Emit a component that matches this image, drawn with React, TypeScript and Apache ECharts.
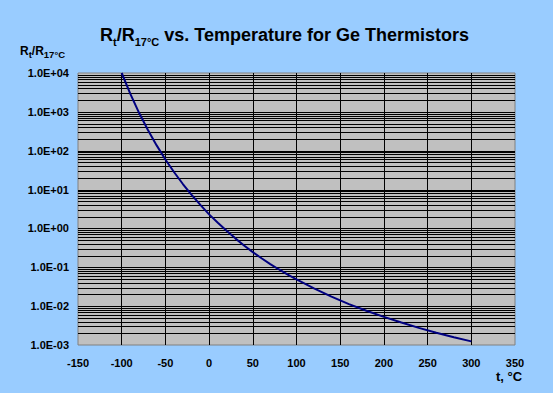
import React, { useEffect, useRef } from "react";
import * as echarts from "echarts";

// Temperature, °C
const temps = [
  -100, -90, -80, -70, -60, -50, -40, -30, -20, -10, 0, 10, 20, 30, 40, 50, 60, 70, 80, 90, 100,
  120, 140, 160, 180, 200, 220, 240, 260, 280, 300,
];
// R_t / R_17°C
const ratios = [
  10000, 2860, 931, 340, 137, 59.6, 27.9, 13.9, 7.31, 4.04, 2.3, 1.4, 0.87, 0.555, 0.362, 0.245,
  0.171, 0.121, 0.0878, 0.0648, 0.0488, 0.0286, 0.0176, 0.0113, 0.0076, 0.0053, 0.00378, 0.00276,
  0.00207, 0.00158, 0.00124,
];
// X axis range / ticks
const xMin = -150;
const xMax = 350;
const xStep = 50;
// Y axis decades (exponents)
const yExpMin = -3;
const yExpMax = 4;
const minorMultipliers = [1, 2, 3, 4, 5, 6, 7, 8, 9];

const FONT = '"Liberation Sans", Arial, sans-serif';

export default function App() {
  const ref = useRef<HTMLDivElement>(null);

  useEffect(() => {
    if (!ref.current) return;
    const chart = echarts.init(ref.current, undefined, { renderer: "svg" });

    const gridValues: number[][] = [];
    for (let e = yExpMin; e < yExpMax; e++) {
      for (const k of minorMultipliers) {
        const v = k * Math.pow(10, e);
        if (e === yExpMin && k === 1) continue;
        gridValues.push([xMin, v]);
      }
    }

    const fmt = (v: number) => {
      const e = Math.round(Math.log10(v));
      return "1.0E" + (e < 0 ? "-" : "+") + String(Math.abs(e)).padStart(2, "0");
    };

    const labelStyle = { fontFamily: FONT, fontSize: 11, fontWeight: "bold" as const, color: "#000" };

    chart.setOption({
      animation: false,
      backgroundColor: "#99CCFF",
      textStyle: { fontFamily: FONT },
      title: {
        text: "{m|R}{s|t}{m|/R}{s|17°C}{m| vs. Temperature for Ge Thermistors}",
        left: 100,
        top: 23,
        padding: 0,
        textStyle: {
          rich: {
            m: { fontFamily: FONT, fontSize: 18, fontWeight: "bold", lineHeight: 24, verticalAlign: "middle", color: "#000" },
            s: { fontFamily: FONT, fontSize: 11, fontWeight: "bold", lineHeight: 13, verticalAlign: "bottom", color: "#000" },
          },
        },
      },
      grid: {
        left: 78,
        top: 73,
        width: 437,
        height: 272,
        show: true,
        backgroundColor: "#C0C0C0",
        borderColor: "#808080",
        borderWidth: 1,
        containLabel: false,
      },
      xAxis: {
        type: "value",
        min: xMin,
        max: xMax,
        interval: xStep,
        axisLine: { show: false },
        axisTick: { show: false },
        splitLine: { show: true, showMinLine: false, showMaxLine: false, lineStyle: { color: "#000", width: 1 } },
        axisLabel: { ...labelStyle, margin: 12 },
      },
      yAxis: {
        type: "log",
        logBase: 10,
        min: Math.pow(10, yExpMin),
        max: Math.pow(10, yExpMax),
        splitNumber: 7,
        axisLine: { show: false },
        axisTick: { show: false },
        splitLine: { show: false },
        axisLabel: { ...labelStyle, margin: 9, formatter: fmt, showMinLabel: true, showMaxLabel: true },
      },
      graphic: [
        {
          type: "text",
          left: 20,
          top: 45,
          style: {
            text: "{m|R}{s|t}{m|/R}{s|17°C}",
            rich: {
              m: { fontFamily: FONT, fontSize: 12, fontWeight: "bold", lineHeight: 16, verticalAlign: "middle", fill: "#000" },
              s: { fontFamily: FONT, fontSize: 9.5, fontWeight: "bold", lineHeight: 10, verticalAlign: "bottom", fill: "#000" },
            },
          },
        },
        {
          type: "text",
          left: 496,
          top: 370,
          style: { text: "t, °C", font: `bold 13px ${FONT}`, fill: "#000" },
        },
      ],
      series: [
        {
          type: "custom",
          silent: true,
          z: 1,
          data: gridValues,
          encode: { x: 0, y: 1 },
          renderItem: (params: any, api: any) => {
            const v = api.value(1);
            const p1 = api.coord([xMin, v]);
            const p2 = api.coord([xMax, v]);
            const y = Math.round(p1[1]) + 0.5;
            return {
              type: "line",
              shape: { x1: p1[0], y1: y, x2: p2[0], y2: y },
              style: { stroke: "#000", lineWidth: 1 },
            };
          },
        },
        {
          type: "line",
          z: 3,
          data: temps.map((t, i) => [t, ratios[i]]),
          showSymbol: false,
          symbol: "none",
          smooth: false,
          lineStyle: { color: "#000080", width: 2 },
          itemStyle: { color: "#000080" },
        },
      ],
    });

    return () => chart.dispose();
  }, []);

  return (
    <div style={{ position: "fixed", left: 0, top: 0, width: 558, height: 398, background: "#fff" }}>
      <div ref={ref} style={{ width: 553, height: 393 }} />
    </div>
  );
}
